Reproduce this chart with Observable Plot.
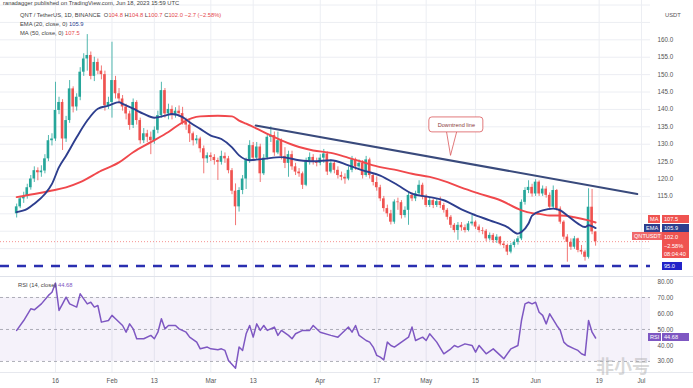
<!DOCTYPE html>
<html><head><meta charset="utf-8">
<script src="https://cdn.jsdelivr.net/npm/d3@7"></script>
<script src="https://cdn.jsdelivr.net/npm/@observablehq/plot@0.6"></script>
<style>
body{margin:0;background:#fff;font-family:"Liberation Sans",Arial,sans-serif;}
#wrap{position:relative;width:693px;height:388px;overflow:hidden;background:#fff;}
.abs{position:absolute;white-space:nowrap;}
.hdr{font-size:5.8px;color:#444;line-height:7px;}
.tag{position:absolute;font-size:5.6px;color:#fff;line-height:8px;height:8px;padding:0 2px;white-space:nowrap;box-sizing:border-box;}
.red{color:#e5484d}.blue{color:#2c3e8f}.pur{color:#7e57c2}
</style></head><body><div id="wrap"></div>
<script>
// ---------- data ----------
const firstDay = 4;            // day-of-year index (Jan 1 = 0) of the first candle: Jan 5, 2023
const firstOpen = 110.0;
const closes = [112.0,114.3,115.0,117.5,120.0,122.4,121.8,122.3,125.8,131.0,131.5,139.7,142.0,131.5,136.8,145.9,140.7,143.5,150.7,154.5,
155.5,149.5,153.5,151.0,150.0,141.1,142.0,148.3,144.5,143.0,140.7,138.7,135.4,142.0,136.8,131.0,133.0,132.0,131.0,134.0,
138.2,145.4,138.7,140.0,138.2,139.5,138.8,136.3,135.5,133.0,131.0,131.5,128.7,125.8,126.7,126.2,125.3,124.8,126.5,125.8,
122.4,116.5,112.0,116.7,120.0,125.3,129.6,126.0,129.2,121.5,126.0,132.0,132.5,127.5,131.0,126.5,124.5,127.0,123.5,122.0,
121.5,118.2,125.0,126.2,125.0,124.5,126.0,127.2,122.0,124.5,122.5,121.0,120.5,120.0,122.5,125.5,123.5,124.5,121.0,125.5,
121.0,119.0,117.5,114.3,111.5,110.0,107.6,113.4,113.2,109.5,111.0,115.3,114.3,115.8,118.2,114.8,112.4,113.8,112.4,113.5,
112.4,111.0,109.0,106.7,105.2,106.7,106.0,105.2,107.1,107.6,106.2,105.2,105.0,102.8,103.8,102.3,103.3,101.3,100.9,99.0,
100.9,101.8,102.8,113.3,116.7,117.6,115.7,119.1,115.7,117.1,115.3,111.9,116.7,111.4,107.6,103.3,101.8,100.4,102.8,99.5,
99.0,97.5,111.9,104.8,102.0];
const highs = [112.8,115.0,116.2,118.5,121.0,123.5,123.2,123.8,127.0,132.5,133.0,147.8,143.5,142.8,138.0,148.3,146.5,144.5,152.0,156.0,
161.5,156.5,155.0,154.5,152.5,151.0,143.5,159.3,149.5,146.0,144.0,141.5,139.5,143.0,142.5,137.5,134.5,134.0,133.5,135.0,
139.5,147.8,146.0,141.5,141.0,140.5,141.0,140.6,137.5,136.8,133.5,132.5,132.0,129.5,127.5,127.5,127.0,126.0,128.0,127.5,
126.5,123.0,118.6,117.5,121.0,126.0,131.0,130.5,130.5,130.0,127.0,133.0,135.0,133.5,133.5,131.5,129.0,128.0,128.0,124.5,
123.0,122.0,126.0,127.5,127.0,126.0,127.0,128.5,127.8,125.5,125.0,123.5,122.0,121.5,123.5,126.5,126.0,125.5,125.3,126.5,
126.0,121.5,120.6,118.2,115.0,112.5,111.0,114.0,114.5,113.8,112.0,116.0,116.0,116.5,119.5,118.8,115.5,114.5,114.2,114.2,
114.8,113.0,111.5,109.5,107.2,107.5,107.5,106.8,107.8,109.5,108.0,106.8,106.0,105.5,104.5,104.3,104.0,103.5,102.0,101.3,
101.5,102.5,103.5,114.0,117.5,119.5,118.5,119.8,119.5,118.0,117.8,116.0,118.0,117.0,112.0,108.0,104.0,102.8,103.5,103.0,
100.9,99.5,117.2,117.0,104.8];
const lows = [108.8,111.5,113.0,114.2,116.8,119.0,119.5,120.5,121.5,125.0,129.5,130.8,138.5,128.2,130.5,136.0,139.0,139.5,142.5,149.5,
151.0,148.5,148.0,150.0,148.5,139.5,140.0,137.5,143.0,141.5,139.5,137.0,134.0,134.5,135.5,130.0,130.2,130.5,127.0,130.0,
133.0,137.5,137.5,137.0,137.0,137.5,137.8,135.5,134.0,130.5,129.5,130.0,127.5,121.5,124.5,125.0,124.0,119.6,124.0,124.5,
121.5,115.5,106.6,110.5,115.5,117.0,124.5,125.0,125.5,119.0,121.0,125.5,130.5,126.5,127.0,125.5,123.0,120.5,122.5,121.0,
120.5,117.0,117.8,124.0,124.0,123.5,123.8,124.5,121.0,121.5,121.5,120.0,119.5,118.5,119.5,121.8,122.5,122.8,120.0,120.5,
120.0,118.0,116.5,113.5,110.5,109.0,106.8,107.0,111.0,108.5,108.8,106.7,113.5,113.5,115.0,114.0,111.8,111.8,111.5,111.8,
111.5,110.2,108.2,105.8,104.5,102.4,105.0,104.5,104.8,106.5,105.5,104.5,104.0,102.0,102.2,101.5,101.5,100.8,100.0,98.0,
98.5,100.2,101.0,102.3,112.5,115.8,114.8,115.0,115.0,115.0,114.5,111.0,111.5,110.8,107.0,102.5,96.1,99.5,99.8,98.8,
98.2,96.4,97.0,104.0,100.7];

// indicator lines (day index, value)
const emaDays   = [4,7,9,12,14,16,18,21,24,27,30,33,34,37,40,43,46,48,51,53,56,59,62,65,67,70,74,79,84,88,93,98,102,107,112,116,121,125,130,133,138,143,146,147,149,150,153,156,158,160,163,165,166,168];
const emaValues = [110.5,111.4,112.9,115.7,118.6,123.4,126.7,132.0,136.8,140.2,141.1,142.1,141.6,140.2,138.7,137.6,138.2,138.7,137.8,136.3,134.4,132.5,131.5,129.1,126.8,125.4,125.8,126.3,125.4,125.1,125.4,123.9,122.5,121.0,118.2,115.8,114.8,113.9,111.3,110.0,108.1,106.2,104.3,104.8,107.2,109.5,111.0,111.5,111.0,109.5,107.2,106.2,106.7,105.9];
const maDays    = [4,9,14,18,22,28,33,37,42,47,51,56,61,65,67,69,74,79,84,88,93,98,102,107,112,116,121,126,130,135,141,147,150,152,155,158,162,166,168];
const maValues  = [114.8,115.7,116.7,117.6,119.1,122.4,124.8,127.7,130.6,133.5,136.3,138.0,138.2,138.0,136.8,135.9,133.5,131.1,129.2,128.2,127.5,126.1,124.9,123.4,122.5,121.5,120.6,119.1,117.5,115.8,113.9,111.0,110.2,110.0,109.5,109.5,109.0,108.1,107.5];

const rsiDays   = [4,6,8,9,11,13,14,15,16,17,18,19,21,22,24,25,26,27,28,30,31,32,34,35,36,37,38,40,42,43,44,45,46,47,49,50,52,53,55,56,58,59,61,62,63,64,66,67,68,69,70,71,72,73,74,75,77,78,79,81,82,83,85,87,88,90,93,95,96,98,99,100,101,103,104,105,106,107,108,109,110,111,113,115,116,117,119,120,121,123,125,127,128,129,131,133,134,135,137,139,141,142,144,146,147,148,149,150,151,152,153,154,155,157,158,159,160,162,163,164,165,166,167,168];
const rsiValues = [49.4,55.6,62.9,62.3,66,71.3,73.3,79,61.9,66,70.2,66,64,72.3,66,67,64,65,54.6,55.6,58.8,56.7,52.5,48.3,53.5,50.4,44.2,44.2,46.3,44.2,48.3,56.7,50.4,52.5,52.5,50.4,48.3,45.2,42.1,37.9,39,37.9,37.3,37.9,36.9,30.6,25.8,39,36.9,47.3,52.5,45.2,53.5,49.4,52.5,49.4,51.5,46.3,49.4,46.3,44.2,47.3,49.4,49.4,52.5,48.3,46.3,45.2,47.3,51.5,48.3,52.5,46.3,43.1,42.1,39,33.8,32.7,31,42.1,40,39,42.1,45.2,51.5,43.1,45.2,43.1,47.3,42.1,34.8,37.9,40,39,41,40,35.8,40,34.8,37.9,33.8,31.7,37.9,40,55.6,66,67,66,67,60.8,58.8,53.5,59.8,52.5,49.4,42.1,40,37.9,36.9,34.8,33.8,55.6,48.3,44.68];

const trendDays   = [71.7, 179.8];      // drawn "Downtrend line"
const trendPrices = [135.4, 115.7];
const supportLevel = 95.0;
const lastPrice = 102.0;
const lastEma = 105.9, lastMa = 107.5, lastRsi = 44.68;

const tickDays   = [15,31,43,59,71,90,106,120,134,151,169,181];
const tickLabels = ["16","Feb","13","Mar","13","Apr","17","May","15","Jun","19","Jul"];
const priceTicks = [115,120,125,130,135,140,145,150,155,160];
const priceGrid  = [100,105,110,115,120,125,130,135,140,145,150,155,160,165,170];
const rsiTicks   = [30,40,50,60,70,80];

const callout = {text: "Downtrend line", day1: 120.9, day2: 136.2, p1: 133.4, p2: 137.7,
                 tail: [[125.8,133.4],[126.9,126.8],[128.6,133.4]]};

// ---------- build ----------
const candles = closes.map((c, k) => ({day: firstDay + k, open: k ? closes[k-1] : firstOpen, close: c, high: highs[k], low: lows[k]}));
const ema = emaDays.map((d, k) => ({day: d, v: emaValues[k]}));
const ma  = maDays.map((d, k) => ({day: d, v: maValues[k]}));
const rsi = rsiDays.map((d, k) => ({day: d, v: rsiValues[k]}));
const trend = trendDays.map((d, k) => ({day: d, v: trendPrices[k]}));
const labelOf = new Map(tickDays.map((d, k) => [d, tickLabels[k]]));
const up = "#26a69a", down = "#ef5350";
const col = d => d.close >= d.open ? up : down;
const xDomain = [-0.58, 183.55];

const wrap = document.getElementById("wrap");
const font = "Liberation Sans, Arial, sans-serif";

const main = Plot.plot({
  width: 693, height: 277, marginLeft: 0, marginRight: 43, marginTop: 0, marginBottom: 0,
  x: {domain: xDomain, axis: null},
  y: {domain: [91.7, 171.3], axis: null},
  style: {fontFamily: font, color: "#555", background: "transparent", overflow: "visible"},
  marks: [
    Plot.gridX(tickDays, {stroke: "#eceef3", strokeOpacity: 1}),
    Plot.gridY(priceGrid, {stroke: "#eceef3", strokeOpacity: 1}),
    Plot.ruleY([lastPrice], {stroke: "#ef5350", strokeWidth: 0.8, strokeDasharray: "1,2", strokeOpacity: 0.8}),
    Plot.ruleY([supportLevel], {stroke: "#2a2fb0", strokeWidth: 2.4, strokeDasharray: "9,8"}),
    Plot.ruleX(candles, {x: "day", y1: "low", y2: "high", stroke: col, strokeWidth: 0.8}),
    Plot.rect(candles, {x1: d => d.day - 0.37, x2: d => d.day + 0.37, y1: "open", y2: "close", fill: col}),
    Plot.line(ma, {x: "day", y: "v", stroke: "#f0484c", strokeWidth: 1.9, curve: "monotone-x"}),
    Plot.line(ema, {x: "day", y: "v", stroke: "#2d3e8e", strokeWidth: 1.9, curve: "monotone-x"}),
    Plot.line(trend, {x: "day", y: "v", stroke: "#394a7c", strokeWidth: 2}),
    Plot.line(callout.tail.map(([d, v]) => ({day: d, v})), {x: "day", y: "v", stroke: "#d9585a", strokeWidth: 0.8, fill: "white"}),
    Plot.rect([callout], {x1: "day1", x2: "day2", y1: "p1", y2: "p2", fill: "white", stroke: "#d9585a", strokeWidth: 0.8, rx: 3}),
    Plot.text([callout], {x: d => (d.day1 + d.day2) / 2, y: d => (d.p1 + d.p2) / 2, text: "text", fontSize: 5.6, fill: "#8a3a3a"}),
    Plot.axisY(priceTicks, {anchor: "right", tickSize: 0, tickPadding: 7, tickFormat: d => d.toFixed(1), fontSize: 6.3, fill: "#555"})
  ]
});
main.style.position = "absolute"; main.style.left = "0px"; main.style.top = "0px";
wrap.appendChild(main);

const rsiChart = Plot.plot({
  width: 693, height: 111, marginLeft: 0, marginRight: 43, marginTop: 0, marginBottom: 16,
  x: {domain: xDomain, axis: null},
  y: {domain: [23.1, 82.5], axis: null},
  style: {fontFamily: font, color: "#555", background: "transparent", overflow: "visible"},
  marks: [
    Plot.gridX(tickDays, {stroke: "#eceef3", strokeOpacity: 1}),
    Plot.rect([{a: xDomain[0], b: xDomain[1], lo: 30, hi: 70}], {x1: "a", x2: "b", y1: "lo", y2: "hi", fill: "#7e57c2", fillOpacity: 0.08}),
    Plot.ruleY([70, 50, 30], {stroke: "#9a9ca6", strokeWidth: 0.8, strokeDasharray: "3,3"}),
    Plot.line(rsi, {x: "day", y: "v", stroke: "#7e57c2", strokeWidth: 1.5}),
    Plot.axisY(rsiTicks, {anchor: "right", tickSize: 0, tickPadding: 7, tickFormat: d => d.toFixed(2), fontSize: 6.3, fill: "#555"}),
    Plot.axisX(tickDays, {anchor: "bottom", tickSize: 0, tickPadding: 6, tickFormat: d => labelOf.get(d), fontSize: 6.3, fill: "#555"})
  ]
});
rsiChart.style.position = "absolute"; rsiChart.style.left = "0px"; rsiChart.style.top = "277px";
wrap.appendChild(rsiChart);

// scale helpers
function pix(chart, name) {
  const s = chart.scale(name);
  return s.apply ? (v => s.apply(v)) : d3.scaleLinear(s.domain, s.range);
}
const yMain = pix(main, "y");
const yRsi = pix(rsiChart, "y");

function add(html, css, cls) {
  const el = document.createElement("div");
  el.className = cls || "abs";
  el.innerHTML = html;
  Object.assign(el.style, css);
  wrap.appendChild(el);
  return el;
}
// separators
add("", {left: "0px", top: "276px", width: "693px", height: "1px", background: "#dfe2ea"});
add("", {left: "0px", top: "372px", width: "693px", height: "1px", background: "#e6e8ee"});

// header
add("ranadagger published on TradingView.com, Jun 18, 2023 15:59 UTC", {left: "3px", top: "0px"}, "abs hdr");
add('QNT / TetherUS, 1D, BINANCE &nbsp;O<span class="red">104.8</span> H<span class="red">104.8</span> L<span class="red">100.7</span> C<span class="red">102.0</span> <span class="red">−2.7 (−2.58%)</span>', {left: "20px", top: "12px"}, "abs hdr");
add('EMA (20, close, 0) <span class="blue">105.9</span>', {left: "20px", top: "21px"}, "abs hdr");
add('MA (50, close, 0) <span class="red">107.5</span>', {left: "20px", top: "30px"}, "abs hdr");
add("USDT", {left: "665px", top: "12px", fontSize: "5.8px", color: "#555"});

// right-side tags
function tag(text, left, top, bg, extra) {
  return add(text, Object.assign({left: left + "px", top: top + "px", background: bg}, extra || {}), "tag");
}
const yMa = yMain(lastMa) - 7, yEm = yMain(lastEma) - 4;
tag("MA", 648, yMa, "#ef5350");
tag(lastMa.toFixed(1), 662, yMa, "#ef5350", {width: "27px"});
tag("EMA", 644, yEm, "#2d3e8e");
tag(lastEma.toFixed(1), 662, yEm, "#2d3e8e", {width: "27px"});
const yQ = yMain(lastPrice) - 9;
tag("QNTUSDT", 632, yQ, "#f0686a");
tag(lastPrice.toFixed(1) + "<br>−2.58%<br>08:04:40", 662, yQ, "#ef5350", {width: "27px", height: "26px", lineHeight: "8.5px", paddingTop: "1px"});
tag(supportLevel.toFixed(1), 662, yMain(supportLevel) - 4, "#2323c8", {width: "20px"});

// RSI labels
add('RSI (14, close) <span class="pur">' + lastRsi.toFixed(2) + '</span>', {left: "18px", top: (277 + yRsi(80) + 1) + "px"}, "abs hdr");
const yR = 277 + yRsi(lastRsi) - 4;
tag("RSI", 648, yR, "#7e57c2");
tag(lastRsi.toFixed(2), 662, yR, "#7e57c2", {width: "27px"});

// watermark
add("非小号", {left: "596px", top: "352px", fontSize: "18px", color: "rgba(170,170,170,0.45)", fontFamily: "Noto Sans CJK SC", fontWeight: "bold"});
</script></body></html>
